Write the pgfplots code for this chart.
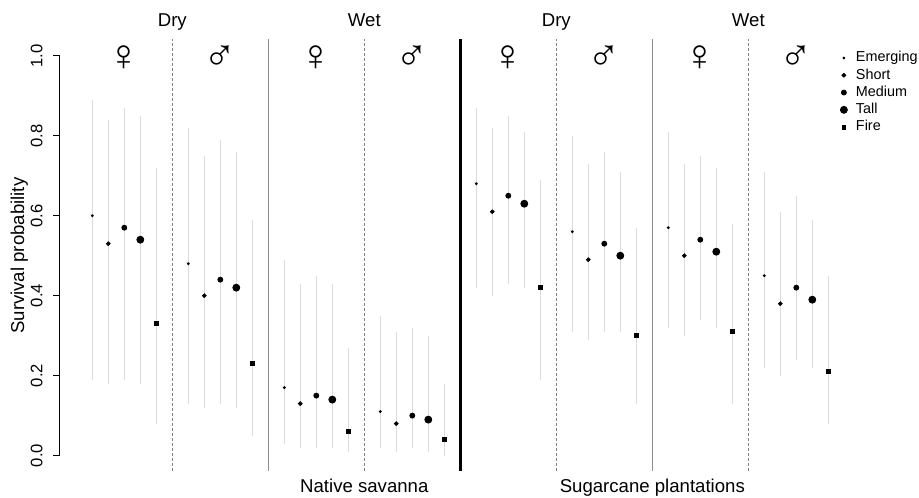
\documentclass[border=0pt]{standalone}
\usepackage{fontspec}
\setmainfont{Liberation Sans}
\usepackage{pgfplots}
\pgfplotsset{compat=1.18}
\usepackage{pgfplotstable}
\definecolor{ebar}{HTML}{DCDCDC}

% x = position (6*group + size class), y = survival, lo/hi = interval
\pgfplotstableread{
x  y    lo   hi
1  0.60 0.19 0.89
7  0.48 0.13 0.82
13 0.17 0.03 0.49
19 0.11 0.02 0.35
25 0.68 0.42 0.87
31 0.56 0.31 0.80
37 0.57 0.32 0.81
43 0.45 0.22 0.71
}\emerging
\pgfplotstableread{
x  y    lo   hi
2  0.53 0.18 0.84
8  0.40 0.12 0.75
14 0.13 0.02 0.43
20 0.08 0.01 0.31
26 0.61 0.40 0.82
32 0.49 0.29 0.73
38 0.50 0.30 0.73
44 0.38 0.20 0.61
}\short
\pgfplotstableread{
x  y    lo   hi
3  0.57 0.19 0.87
9  0.44 0.13 0.79
15 0.15 0.02 0.45
21 0.10 0.02 0.32
27 0.65 0.43 0.85
33 0.53 0.31 0.76
39 0.54 0.34 0.75
45 0.42 0.24 0.65
}\medium
\pgfplotstableread{
x  y    lo   hi
4  0.54 0.18 0.85
10 0.42 0.12 0.76
16 0.14 0.02 0.43
22 0.09 0.01 0.30
28 0.63 0.42 0.81
34 0.50 0.31 0.71
40 0.51 0.32 0.72
46 0.39 0.22 0.59
}\tall
\pgfplotstableread{
x  y    lo   hi
5  0.33 0.08 0.72
11 0.23 0.05 0.59
17 0.06 0.01 0.27
23 0.04 0.00 0.18
29 0.42 0.19 0.69
35 0.30 0.13 0.57
41 0.31 0.13 0.58
47 0.21 0.08 0.45
}\fire

\begin{document}
\begin{tikzpicture}
\begin{axis}[
  x=8pt, y=199.9pt,
  xmin=-1.02, xmax=48, ymin=0, ymax=1,
  axis x line=none, axis y line*=left,
  axis line style={-, line width=0.5pt, black},
  y axis line style={-},
  clip=false,
  xtick=\empty,
  ytick={0,0.2,0.4,0.6,0.8,1},
  /pgf/number format/assume math mode=true,
  yticklabel style={/pgf/number format/.cd, fixed, fixed zerofill, precision=1, /tikz/.cd,
     xshift=-5.5pt, rotate=90, anchor=base, inner sep=0pt, font=\fontsize{8.3}{10}\selectfont},
  tick align=outside, major tick length=3.3pt,
  tick style={black, line width=0.5pt},
  ylabel={Survival probability},
  every axis y label/.style={at={(axis description cs:-0.0457,0.5)}, rotate=90, anchor=base,
     font=\fontsize{9.3}{11}\selectfont},
  legend style={at={(axis cs:47.73,1.0125)}, anchor=north west, draw=none, fill=none,
     inner sep=0pt, font=\fontsize{7.2}{8}\selectfont, row sep=1.9pt, column sep=4.3pt,
     nodes={inner sep=0pt, text height=5.3pt, text depth=1.45pt}},
  legend cell align=left,
  legend image code/.code={\draw[mark repeat=2, mark phase=2, #1] plot coordinates {(0pt,0pt) (2pt,0pt) (4pt,0pt)};},
  ebars/.style={error bars/.cd, y dir=both, y explicit,
     error bar style={color=ebar, line width=0.7pt, solid}, error mark=none},
]
\draw[color=gray, line width=0.45pt, dash pattern=on 1.5pt off 1pt] (axis cs:6,-0.038) -- (axis cs:6,1.042);
\draw[color=gray, line width=0.45pt, dash pattern=on 1.5pt off 1pt] (axis cs:18,-0.038) -- (axis cs:18,1.042);
\draw[color=gray, line width=0.45pt, dash pattern=on 1.5pt off 1pt] (axis cs:30,-0.038) -- (axis cs:30,1.042);
\draw[color=gray, line width=0.45pt, dash pattern=on 1.5pt off 1pt] (axis cs:42,-0.038) -- (axis cs:42,1.042);
\draw[color=black!45, line width=0.6pt] (axis cs:12,-0.038) -- (axis cs:12,1.042);
\draw[color=black!45, line width=0.6pt] (axis cs:36,-0.038) -- (axis cs:36,1.042);
\draw[color=black, line width=1.5pt] (axis cs:24,-0.038) -- (axis cs:24,1.042);

\addplot[only marks, mark=*, mark size=0.5pt, black, ebars]
  table[x=x, y=y, y error plus expr=\thisrow{hi}-\thisrow{y}, y error minus expr=\thisrow{y}-\thisrow{lo}] {\emerging};
\addlegendentry{Emerging}
\addplot[only marks, mark=*, mark size=0.95pt, black, ebars]
  table[x=x, y=y, y error plus expr=\thisrow{hi}-\thisrow{y}, y error minus expr=\thisrow{y}-\thisrow{lo}] {\short};
\addlegendentry{Short}
\addplot[only marks, mark=*, mark size=1.25pt, black, ebars]
  table[x=x, y=y, y error plus expr=\thisrow{hi}-\thisrow{y}, y error minus expr=\thisrow{y}-\thisrow{lo}] {\medium};
\addlegendentry{Medium}
\addplot[only marks, mark=*, mark size=1.75pt, black, ebars]
  table[x=x, y=y, y error plus expr=\thisrow{hi}-\thisrow{y}, y error minus expr=\thisrow{y}-\thisrow{lo}] {\tall};
\addlegendentry{Tall}
\addplot[only marks, mark=square*, mark size=0.9pt, black, ebars]
  table[x=x, y=y, y error plus expr=\thisrow{hi}-\thisrow{y}, y error minus expr=\thisrow{y}-\thisrow{lo}] {\fire};
\addlegendentry{Fire}

\node[anchor=base, font=\fontsize{9.3}{11}\selectfont] at (axis cs:6,1.0725) {Dry};
\node[anchor=base, font=\fontsize{9.3}{11}\selectfont] at (axis cs:18,1.0725) {Wet};
\node[anchor=base, font=\fontsize{9.3}{11}\selectfont] at (axis cs:30,1.0725) {Dry};
\node[anchor=base, font=\fontsize{9.3}{11}\selectfont] at (axis cs:42,1.0725) {Wet};

\node[font=\fontsize{22}{24}\selectfont] at (axis cs:3,0.995) {♀};
\node[font=\fontsize{22}{24}\selectfont] at (axis cs:9,0.995) {♂};
\node[font=\fontsize{22}{24}\selectfont] at (axis cs:15,0.995) {♀};
\node[font=\fontsize{22}{24}\selectfont] at (axis cs:21,0.995) {♂};
\node[font=\fontsize{22}{24}\selectfont] at (axis cs:27,0.995) {♀};
\node[font=\fontsize{22}{24}\selectfont] at (axis cs:33,0.995) {♂};
\node[font=\fontsize{22}{24}\selectfont] at (axis cs:39,0.995) {♀};
\node[font=\fontsize{22}{24}\selectfont] at (axis cs:45,0.995) {♂};

\node[anchor=base, font=\fontsize{9.3}{11}\selectfont] at (axis cs:18,-0.092) {Native savanna};
\node[anchor=base, font=\fontsize{9.3}{11}\selectfont] at (axis cs:36,-0.092) {Sugarcane plantations};

\coordinate (bbll) at (axis cs:-4.77,-0.106);
\coordinate (bbur) at (axis cs:52.67,1.1396);
\end{axis}
\pgfresetboundingbox
\path[use as bounding box] (bbll) rectangle (bbur);
\end{tikzpicture}
\end{document}
